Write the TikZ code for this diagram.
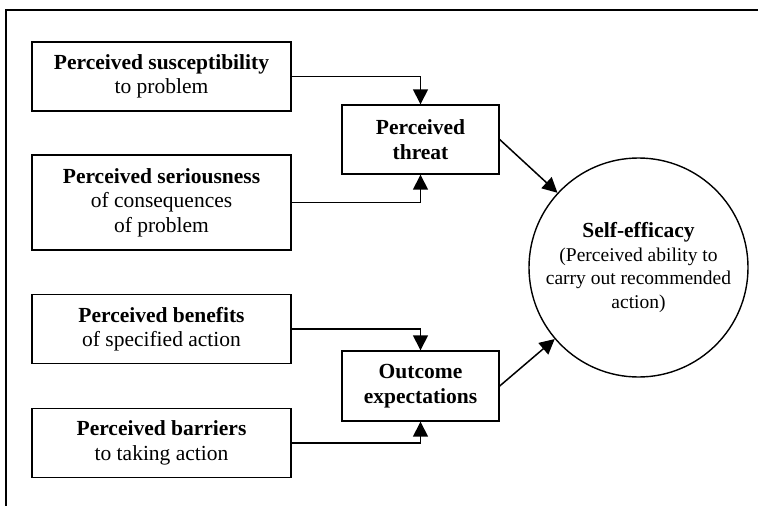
\documentclass[tikz,border=0pt]{standalone}
\usepackage{fontspec}
\setmainfont{Liberation Serif}
\usetikzlibrary{arrows.meta}

\tikzset{
  factor/.style={draw,line width=1.4pt,minimum width=259pt,minimum height=69pt,
    align=center,inner sep=0pt,font=\fontsize{21.5}{24.5}\selectfont},
  summary/.style={factor,minimum width=157pt},
  arr/.style={line width=1.5pt,-{Triangle[width=15pt,length=15pt]}}
}

\begin{document}
\begin{tikzpicture}[x=1pt,y=-1pt]
      \useasboundingbox (0,0) rectangle (758,506);
      \draw[line width=2pt] (6,506) -- (6,10) -- (758,10);

      \node[factor] (susc) at (161.5,76.5) {\textbf{Perceived susceptibility}\\to problem};
      \node[factor,minimum height=95pt] (seri) at (161.5,202.5) {\textbf{Perceived seriousness}\\of consequences\\of problem};
      \node[factor] (bene) at (161.5,329) {\textbf{Perceived benefits}\\of specified action};
      \node[factor] (barr) at (161.5,443) {\textbf{Perceived barriers}\\to taking action};

      \node[summary] (threat) at (420.5,139.5) {\textbf{Perceived}\\\textbf{threat}};
      \node[summary,minimum height=70pt] (outc) at (420.5,386) {\textbf{Outcome}\\\textbf{expectations}};

      \node[draw,circle,line width=1.4pt,minimum size=219pt,inner sep=0pt,align=center,
        font=\fontsize{19.5}{23.5}\selectfont] (eff) at (638.5,267.5)
        {{\fontsize{21.5}{23.5}\selectfont\textbf{Self-efficacy}}\\(Perceived ability to\\carry out recommended\\action)};

      \draw[arr] (susc.east) -| (threat.north);
      \draw[arr] (seri.east) -| (threat.south);
      \draw[arr] (bene.east) -| (outc.north);
      \draw[arr] (barr.east) -| (outc.south);
      \draw[arr] (threat.east) -- (eff);
      \draw[arr] (outc.east) -- (eff);
\end{tikzpicture}
\end{document}
